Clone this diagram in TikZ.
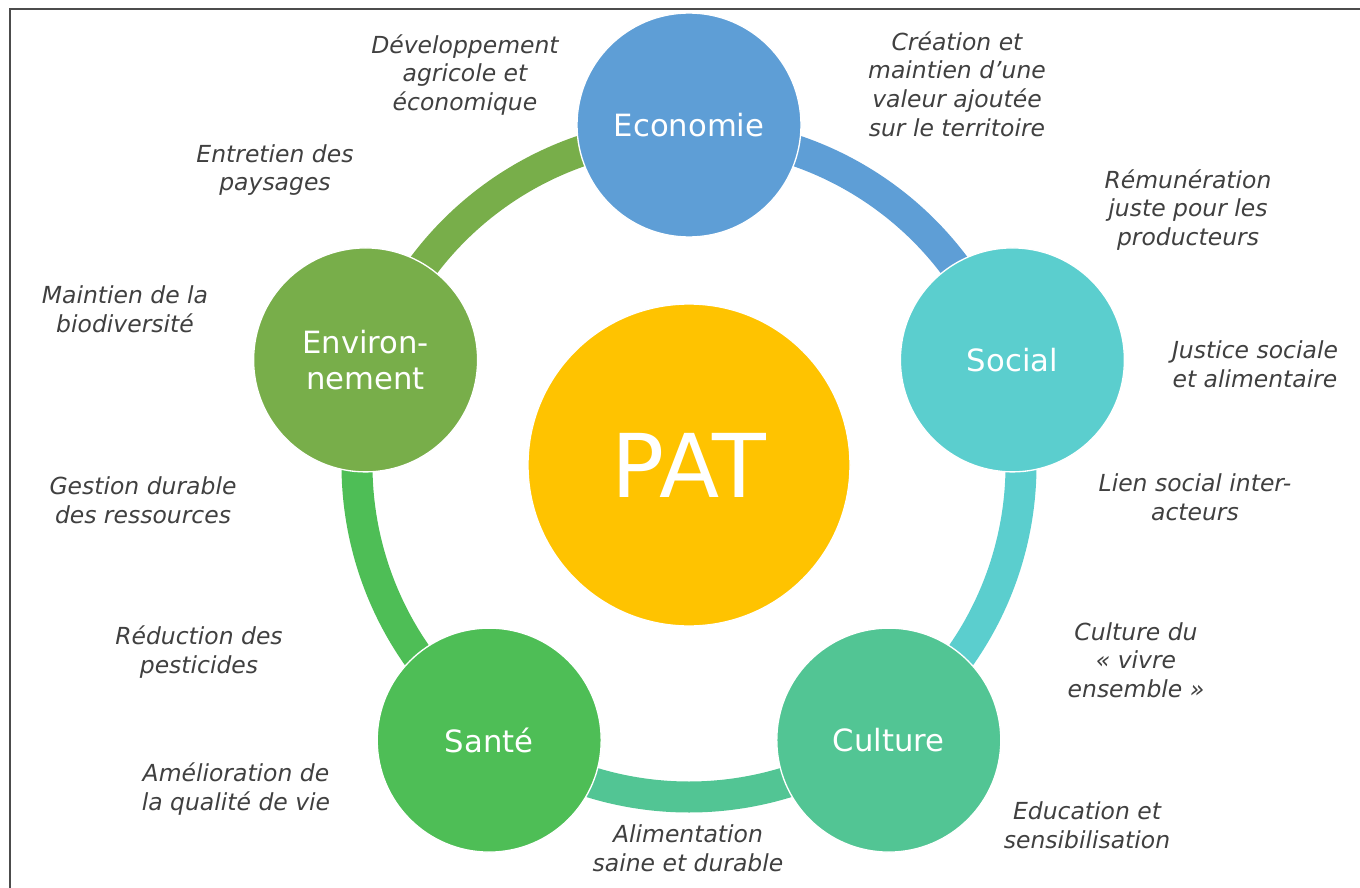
\documentclass[tikz,border=0pt]{standalone}
\usepackage{fontspec}
\setmainfont{DejaVu Sans}
\usepackage{tikz}

\definecolor{ecoblue}{HTML}{5E9ED6}
\definecolor{socialcyan}{HTML}{5BCECE}
\definecolor{culturegreen}{HTML}{52C594}
\definecolor{santegreen}{HTML}{4EBE56}
\definecolor{envgreen}{HTML}{78AE4A}
\definecolor{patyellow}{HTML}{FFC300}
\definecolor{labelgrey}{HTML}{404040}

\tikzset{
  topic/.style={circle, draw=white, line width=1pt, minimum size=168pt, inner sep=0pt,
    text=white, align=center, font=\fontsize{23}{27.5}\selectfont},
  band/.style={line width=23.25pt},
  aim/.style={align=center, text=labelgrey, font=\fontsize{17.6}{21.4}\selectfont\itshape}
}

\begin{document}
\begin{tikzpicture}[x=0.75pt, y=-0.75pt]
            \useasboundingbox (0,0) rectangle (1360,888);
            % Frame
            \draw[black!70, line width=1.5pt] (9.5,888) -- (9.5,9.5) -- (1360,9.5);

            % Ring centre
            \coordinate (ring) at (689,465);

            % Draw bands
            \draw[band, ecoblue] ([shift={(-90:332)}]ring) arc[start angle=-90, end angle=-18, radius=332];
            \draw[band, socialcyan] ([shift={(-18:332)}]ring) arc[start angle=-18, end angle=54, radius=332];
            \draw[band, culturegreen] ([shift={(54:332)}]ring) arc[start angle=54, end angle=126, radius=332];
            \draw[band, santegreen] ([shift={(126:332)}]ring) arc[start angle=126, end angle=198, radius=332];
            \draw[band, envgreen] ([shift={(198:332)}]ring) arc[start angle=198, end angle=270, radius=332];

            % Define circles
            \node[topic, fill=ecoblue] (eco) at (689,125) {Economie};
            \node[topic, fill=socialcyan] (soc) at (1012.4,359.9) {Social};
            \node[topic, fill=culturegreen] (cul) at (888.8,740.1) {Culture};
            \node[topic, fill=santegreen] (san) at (489.2,740.1) {Santé};
            \node[topic, fill=envgreen] (env) at (365.6,359.9) {Environ-\\nement};
            \node[circle, draw=white, line width=1pt, fill=patyellow, minimum size=241.5pt,
              text=white, font=\fontsize{66}{74}\selectfont] (pat) at (ring) {PAT};

            % Labels
            \node[aim] (dev) at (465,75) {Développement\\agricole et\\économique};
            \node[aim] (val) at (957,84) {Création et\\maintien d’une\\valeur ajoutée\\sur le territoire};
            \node[aim] (pay) at (275,170) {Entretien des\\paysages};
            \node[aim] (rem) at (1188,210) {Rémunération\\juste pour les\\producteurs};
            \node[aim] (bio) at (125,309) {Maintien de la\\biodiversité};
            \node[aim] (jus) at (1255,364) {Justice sociale\\et alimentaire};
            \node[aim] (res) at (143,500) {Gestion durable\\des ressources};
            \node[aim] (lien) at (1195,497) {Lien social inter-\\acteurs};
            \node[aim] (pest) at (199,652) {Réduction des\\pesticides};
            \node[aim] (vivre) at (1136,660) {Culture du\\« vivre\\ensemble »};
            \node[aim] (vie) at (236,789) {Amélioration de\\la qualité de vie};
            \node[aim] (edu) at (1087,825) {Education et\\sensibilisation};
            \node[aim] (alim) at (688,848) {Alimentation\\saine et durable};
        \end{tikzpicture}
\end{document}
